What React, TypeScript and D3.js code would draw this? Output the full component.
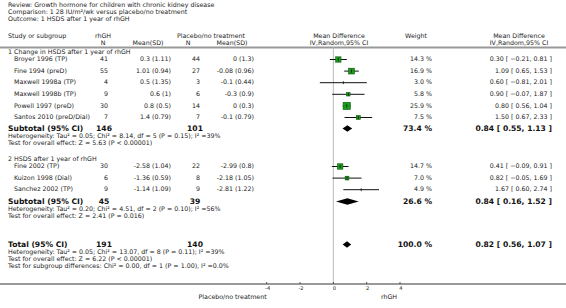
import React from "react";
import * as d3 from "d3";

const titleLines = [
  "Review:  Growth hormone for children with chronic kidney disease",
  "Comparison:  1 28 IU/m²/wk versus placebo/no treatment",
  "Outcome:  1 HSDS after 1 year of rhGH",
];

const groupTitles = ["1 Change in HSDS after 1 year of rhGH", "2 HSDS after 1 year of rhGH"];

const studyGroup = [0, 0, 0, 0, 0, 0, 1, 1, 1];
const studyNames = [
  "Broyer 1996 (TP)",
  "Fine 1994 (preD)",
  "Maxwell 1998a (TP)",
  "Maxwell 1998b (TP)",
  "Powell 1997 (preD)",
  "Santos 2010 (preD/Dial)",
  "Fine 2002 (TP)",
  "Kuizon 1998 (Dial)",
  "Sanchez 2002 (TP)",
];
const rhghN = [41, 55, 4, 9, 30, 7, 30, 6, 9];
const rhghMeanSD = ["0.3 (1.11)", "1.01 (0.94)", "0.5 (1.35)", "0.6 (1)", "0.8 (0.5)", "1.4 (0.79)", "-2.58 (1.04)", "-1.36 (0.59)", "-1.14 (1.09)"];
const ctrlN = [44, 27, 3, 6, 14, 7, 22, 8, 9];
const ctrlMeanSD = ["0 (1.3)", "-0.08 (0.96)", "-0.1 (0.44)", "-0.3 (0.9)", "0 (0.3)", "-0.1 (0.79)", "-2.99 (0.8)", "-2.18 (1.05)", "-2.81 (1.22)"];
const weights = [14.3, 16.9, 3.0, 5.8, 25.9, 7.5, 14.7, 7.0, 4.9];
const meanDiff = [0.3, 1.09, 0.6, 0.9, 0.8, 1.5, 0.41, 0.82, 1.67];
const ciLow = [-0.21, 0.65, -0.81, -0.07, 0.56, 0.67, -0.09, -0.05, 0.6];
const ciHigh = [0.81, 1.53, 2.01, 1.87, 1.04, 2.33, 0.91, 1.69, 2.74];

const subN1 = [146, 45];
const subN2 = [101, 39];
const subWeight = [73.4, 26.6];
const subMD = [0.84, 0.84];
const subLow = [0.55, 0.16];
const subHigh = [1.13, 1.52];
const subHet = [
  "Heterogeneity: Tau² = 0.05; Chi² = 8.14, df = 5 (P = 0.15); I² =39%",
  "Heterogeneity: Tau² = 0.20; Chi² = 4.51, df = 2 (P = 0.10); I² =56%",
];
const subTest = ["Test for overall effect: Z = 5.63 (P < 0.00001)", "Test for overall effect: Z = 2.41 (P = 0.016)"];

const totalN1 = 191;
const totalN2 = 140;
const totalWeight = 100.0;
const totalMD = 0.82;
const totalLow = 0.56;
const totalHigh = 1.07;
const totalNotes = [
  "Heterogeneity: Tau² = 0.05; Chi² = 13.07, df = 8 (P = 0.11); I² =39%",
  "Test for overall effect: Z = 6.22 (P < 0.00001)",
  "Test for subgroup differences: Chi² = 0.00, df = 1 (P = 1.00), I² =0.0%",
];

const axisTicks = [-4, -2, 0, 2, 4];
const leftFavour = "Placebo/no treatment";
const rightFavour = "rhGH";

const FONT = "DejaVu Sans, Verdana, sans-serif";
const TXT = "#222";

const fmt2 = d3.format(".2f");
const ciText = (m: number, l: number, h: number) => `${fmt2(m)} [ ${fmt2(l)}, ${fmt2(h)} ]`;

export default function App() {
  const x = d3.scaleLinear().domain([-4, 4]).range([266.7, 400]);
  const fs = 6.3;
  const bfs = 7.6;

  const colName = 8;
  const colN1 = 108;
  const colM1 = 171;
  const colN2 = 200;
  const colM2 = 254;
  const colW = 432;
  const colMD = 552;

  const headerLineY = 47.5;
  const axisY = 284;

  const groupTitleY = [52.3, 159.3];
  const rowStep = 11.6;
  const studyY = studyNames.map((_, i) => {
    const g = studyGroup[i];
    const idx = studyGroup.slice(0, i).filter((v) => v === g).length;
    return groupTitleY[g] + 7.2 + idx * rowStep;
  });
  const subY = [128.5, 201.5];
  const totalY = 244.5;
  const noteStep = 7;

  const sq = d3.scaleSqrt().domain([0, 25.9]).range([0, 7.2]);

  const diamond = (m: number, l: number, h: number, cy: number) =>
    `M${x(l)},${cy} L${x(m)},${cy - 3.2} L${x(h)},${cy} L${x(m)},${cy + 3.2} Z`;

  const T = (props: any) => (
    <text fontFamily={FONT} fontSize={fs} fill={TXT} dominantBaseline="middle" {...props} />
  );
  const B = (props: any) => (
    <text fontFamily={FONT} fontSize={bfs} fontWeight="bold" fill="#111" dominantBaseline="middle" {...props} />
  );

  return (
    <svg width={566} height={308} style={{ position: "absolute", left: 0, top: 0, background: "#fff" }}>
      <rect width={566} height={308} fill="#fff" />
      {titleLines.map((t, i) => (
        <T key={i} x={colName} y={5.5 + i * 7}>{t}</T>
      ))}
      <T x={colName} y={36}>Study or subgroup</T>
      <T x={103} y={36} textAnchor="middle">rhGH</T>
      <T x={103} y={43.2} textAnchor="middle">N</T>
      <T x={148} y={43.2} textAnchor="middle">Mean(SD)</T>
      <T x={211} y={36} textAnchor="middle">Placebo/no treatment</T>
      <T x={188} y={43.2} textAnchor="middle">N</T>
      <T x={232} y={43.2} textAnchor="middle">Mean(SD)</T>
      <T x={339} y={36} textAnchor="middle">Mean Difference</T>
      <T x={339} y={43.2} textAnchor="middle">IV,Random,95% CI</T>
      <T x={416} y={36} textAnchor="middle">Weight</T>
      <T x={519} y={36} textAnchor="middle">Mean Difference</T>
      <T x={519} y={43.2} textAnchor="middle">IV,Random,95% CI</T>

      <line x1={0} x2={566} y1={headerLineY} y2={headerLineY} stroke="#999" strokeWidth={2} />
      <line x1={x(0)} x2={x(0)} y1={headerLineY} y2={axisY} stroke="#bbb" strokeWidth={1} />

      {groupTitles.map((g, i) => (
        <T key={g} x={colName} y={groupTitleY[i]}>{g}</T>
      ))}

      {studyNames.map((name, i) => {
        const y = studyY[i];
        const s = sq(weights[i]);
        return (
          <g key={name}>
            <T x={colName + 6} y={y}>{name}</T>
            <T x={colN1} y={y} textAnchor="end">{rhghN[i]}</T>
            <T x={colM1} y={y} textAnchor="end">{rhghMeanSD[i]}</T>
            <T x={colN2} y={y} textAnchor="end">{ctrlN[i]}</T>
            <T x={colM2} y={y} textAnchor="end">{ctrlMeanSD[i]}</T>
            <T x={colW} y={y} textAnchor="end">{`${weights[i].toFixed(1)} %`}</T>
            <T x={colMD} y={y} textAnchor="end">{ciText(meanDiff[i], ciLow[i], ciHigh[i])}</T>
            <line x1={x(ciLow[i])} x2={x(ciHigh[i])} y1={y} y2={y} stroke="#111" strokeWidth={1} />
            {weights[i] >= 5.5 && (
              <rect x={x(meanDiff[i]) - s / 2} y={y - s / 2} width={s} height={s} fill="#1a9a1a" stroke="#0a5a0a" strokeWidth={0.6} />
            )}
            <line x1={x(meanDiff[i])} x2={x(meanDiff[i])} y1={y - 1.5} y2={y + 1.5} stroke="#111" strokeWidth={0.8} />
          </g>
        );
      })}

      {subN1.map((n1, g) => (
        <g key={"sub" + g}>
          <B x={colName} y={subY[g]}>Subtotal (95% CI)</B>
          <B x={104} y={subY[g]} textAnchor="middle">{n1}</B>
          <B x={195} y={subY[g]} textAnchor="middle">{subN2[g]}</B>
          <B x={colW} y={subY[g]} textAnchor="end">{`${subWeight[g].toFixed(1)} %`}</B>
          <B x={colMD} y={subY[g]} textAnchor="end">{ciText(subMD[g], subLow[g], subHigh[g])}</B>
          <path d={diamond(subMD[g], subLow[g], subHigh[g], subY[g])} fill="#000" />
          <T x={colName} y={subY[g] + 8}>{subHet[g]}</T>
          <T x={colName} y={subY[g] + 8 + noteStep}>{subTest[g]}</T>
        </g>
      ))}

      <B x={colName} y={totalY}>Total (95% CI)</B>
      <B x={104} y={totalY} textAnchor="middle">{totalN1}</B>
      <B x={195} y={totalY} textAnchor="middle">{totalN2}</B>
      <B x={colW} y={totalY} textAnchor="end">{`${totalWeight.toFixed(1)} %`}</B>
      <B x={colMD} y={totalY} textAnchor="end">{ciText(totalMD, totalLow, totalHigh)}</B>
      <path d={diamond(totalMD, totalLow, totalHigh, totalY)} fill="#000" />
      {totalNotes.map((t, i) => (
        <T key={t} x={colName} y={totalY + 8 + i * noteStep}>{t}</T>
      ))}

      <line x1={0} x2={566} y1={axisY} y2={axisY} stroke="#999" strokeWidth={2} />
      {axisTicks.map((t) => (
        <g key={t}>
          <line x1={x(t)} x2={x(t)} y1={axisY - 2} y2={axisY} stroke="#333" strokeWidth={0.8} />
          <text x={x(t) + 1} y={axisY + 5} fontFamily={FONT} fontSize={5.2} fill={TXT} textAnchor="middle" dominantBaseline="middle">{t}</text>
        </g>
      ))}
      <T x={x(-4)} y={axisY + 13} textAnchor="end">{leftFavour}</T>
      <T x={x(4) - 3} y={axisY + 13} textAnchor="end">{rightFavour}</T>
    </svg>
  );
}
